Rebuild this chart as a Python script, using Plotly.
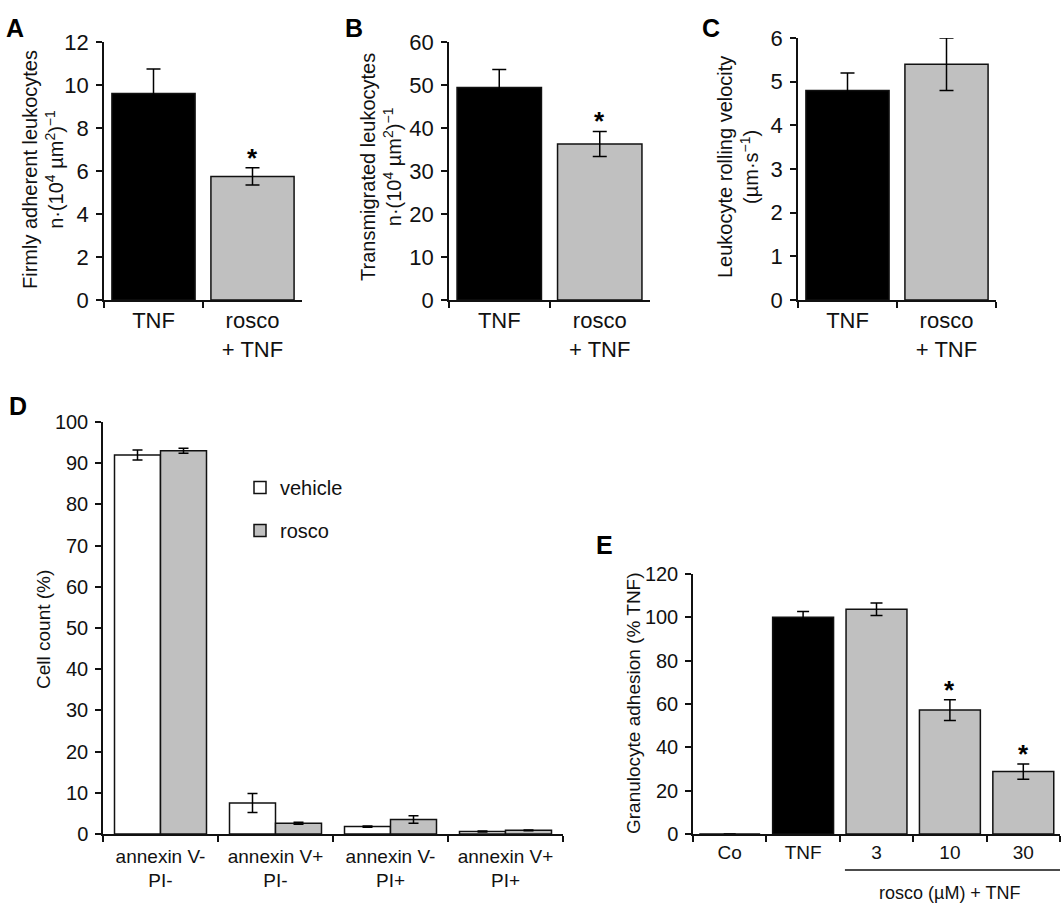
import plotly.graph_objects as go

# ---------------- data ----------------
ab_categories = ["TNF", "rosco<br>+ TNF"]
a_values = [9.6, 5.75]
a_errors = [1.15, 0.4]
b_values = [49.4, 36.3]
b_errors = [4.2, 2.9]
c_values = [4.8, 5.4]
c_errors = [0.4, 0.6]
ab_colors = ["#000000", "#c0c0c0"]

d_categories = ["annexin V-<br>PI-", "annexin V+<br>PI-", "annexin V-<br>PI+", "annexin V+<br>PI+"]
d_vehicle = [92.0, 7.5, 1.8, 0.6]
d_vehicle_err = [1.2, 2.3, 0.15, 0.1]
d_rosco = [93.0, 2.6, 3.5, 0.9]
d_rosco_err = [0.6, 0.25, 0.9, 0.1]

e_categories = ["Co", "TNF", "3", "10", "30"]
e_values = [0, 100, 103.7, 57.2, 28.8]
e_errors = [0, 2.7, 2.9, 4.8, 3.5]
e_colors = ["#000000", "#000000", "#c0c0c0", "#c0c0c0", "#c0c0c0"]

FONT = "Liberation Sans, Arial, sans-serif"
W, H = 1063, 908


def px_x(x):
    return x / W


def px_y(y):
    return 1 - y / H


fig = go.Figure()

err_style = dict(type="data", color="#000000", thickness=1.5)
bar_line = dict(color="#111", width=1.5)

fig.add_trace(go.Bar(x=ab_categories, y=a_values, width=0.84,
                     marker=dict(color=ab_colors, line=bar_line),
                     error_y=dict(array=a_errors, width=7, **err_style),
                     xaxis="x", yaxis="y", showlegend=False))
fig.add_trace(go.Bar(x=ab_categories, y=b_values, width=0.84,
                     marker=dict(color=ab_colors, line=bar_line),
                     error_y=dict(array=b_errors, width=7, **err_style),
                     xaxis="x2", yaxis="y2", showlegend=False))
fig.add_trace(go.Bar(x=ab_categories, y=c_values, width=0.84,
                     marker=dict(color=ab_colors, line=bar_line),
                     error_y=dict(array=c_errors, width=7, **err_style),
                     xaxis="x3", yaxis="y3", showlegend=False))
fig.add_trace(go.Bar(x=d_categories, y=d_vehicle, name="vehicle", width=0.4, offset=-0.4,
                     marker=dict(color="#ffffff", line=bar_line),
                     error_y=dict(array=d_vehicle_err, width=5, **err_style),
                     xaxis="x4", yaxis="y4", legendgroup="v"))
fig.add_trace(go.Bar(x=d_categories, y=d_rosco, name="rosco", width=0.4, offset=0.0,
                     marker=dict(color="#c0c0c0", line=bar_line),
                     error_y=dict(array=d_rosco_err, width=5, **err_style),
                     xaxis="x4", yaxis="y4", legendgroup="r"))
fig.add_trace(go.Bar(x=e_categories, y=e_values, width=0.83,
                     marker=dict(color=e_colors, line=bar_line),
                     error_y=dict(array=e_errors, width=6, **err_style),
                     xaxis="x5", yaxis="y5", showlegend=False))

axis_common = dict(showline=True, linecolor="#111", linewidth=1.5, showgrid=False,
                   zeroline=False, ticks="outside", ticklen=6, tickwidth=1.5,
                   tickcolor="#111", automargin=False)


def xcat(domain, anchor, size, n, standoff=0):
    return dict(domain=domain, anchor=anchor, type="category", tickson="boundaries",
                range=[-0.5, n - 0.5], ticklabelstandoff=standoff,
                tickfont=dict(family=FONT, size=size, color="#111"), **axis_common)


def ynum(domain, anchor, rng, dtick, size):
    return dict(domain=domain, anchor=anchor, range=rng, dtick=dtick, tick0=0,
                ticklabelstandoff=3,
                tickfont=dict(family=FONT, size=size, color="#111"), **axis_common)


top_dom = [px_y(300), px_y(42)]
fig.update_layout(
    width=W, height=H, margin=dict(l=0, r=0, t=0, b=0, autoexpand=False),
    paper_bgcolor="white", plot_bgcolor="white",
    barmode="overlay",
    xaxis=xcat([px_x(104), px_x(302)], "y", 22, 2),
    yaxis=ynum(top_dom, "x", [0, 12], 2, 22),
    xaxis2=xcat([px_x(449), px_x(650)], "y2", 22, 2),
    yaxis2=ynum(top_dom, "x2", [0, 60], 10, 22),
    xaxis3=xcat([px_x(798), px_x(996)], "y3", 22, 2),
    yaxis3=ynum([px_y(300), px_y(38)], "x3", [0, 6], 1, 22),
    xaxis4=xcat([px_x(103), px_x(563)], "y4", 19, 4, 4),
    yaxis4=ynum([px_y(834), px_y(422)], "x4", [0, 100], 10, 20),
    xaxis5=xcat([px_x(693), px_x(1060)], "y5", 19, 5),
    yaxis5=ynum([px_y(834), px_y(574)], "x5", [0, 120], 20, 20),
    legend=dict(x=px_x(240), y=px_y(468), xanchor="left", yanchor="top",
                font=dict(family=FONT, size=20, color="#111"), bgcolor="rgba(0,0,0,0)",
                tracegroupgap=14, itemclick=False),
)

ann = []
for letter, x, y in [("A", 4, 12), ("B", 343, 12), ("C", 700, 12), ("D", 7, 390), ("E", 594, 529)]:
    ann.append(dict(text="<b>%s</b>" % letter, x=px_x(x), y=px_y(y), xref="paper", yref="paper",
                    xanchor="left", yanchor="top", showarrow=False,
                    font=dict(family=FONT, size=25, color="#000")))

titles = [
    ("Firmly adherent leukocytes<br>n·(10<sup>4</sup> µm<sup>2</sup>)<sup>−1</sup>", 43, 170, 20),
    ("Transmigrated leukocytes<br>n·(10<sup>4</sup> µm<sup>2</sup>)<sup>−1</sup>", 381, 167, 20),
    ("Leukocyte rolling velocity<br>(µm·s<sup>−1</sup>)", 738, 167, 20),
    ("Cell count (%)", 43, 630, 19),
    ("Granulocyte adhesion (% TNF)", 633, 703, 19),
]
for t, x, y, s in titles:
    ann.append(dict(text=t, x=px_x(x), y=px_y(y), xref="paper", yref="paper",
                    xanchor="center", yanchor="middle", textangle=-90, showarrow=False,
                    font=dict(family=FONT, size=s, color="#111")))

star = dict(text="<b>*</b>", showarrow=False, yanchor="bottom", yshift=-7,
            font=dict(family=FONT, size=26, color="#000"))
ann.append(dict(x=1, y=a_values[1] + a_errors[1], xref="x", yref="y", **star))
ann.append(dict(x=1, y=b_values[1] + b_errors[1], xref="x2", yref="y2", **star))
for i in (3, 4):
    ann.append(dict(x=i, y=e_values[i] + e_errors[i], xref="x5", yref="y5", **star))

ann.append(dict(text="rosco (µM) + TNF", x=3, y=px_y(893), xref="x5", yref="paper",
                xanchor="center", yanchor="middle", showarrow=False,
                font=dict(family=FONT, size=18, color="#111")))

fig.update_layout(annotations=ann)
fig.add_shape(type="line", xref="x5", yref="paper", x0=1.57, x1=4.5,
              y0=px_y(870), y1=px_y(870), line=dict(color="#111", width=1.5))

fig.write_html("out.html", config={"displayModeBar": False},
               post_script="document.body.style.margin='0';document.body.style.padding='0';")
